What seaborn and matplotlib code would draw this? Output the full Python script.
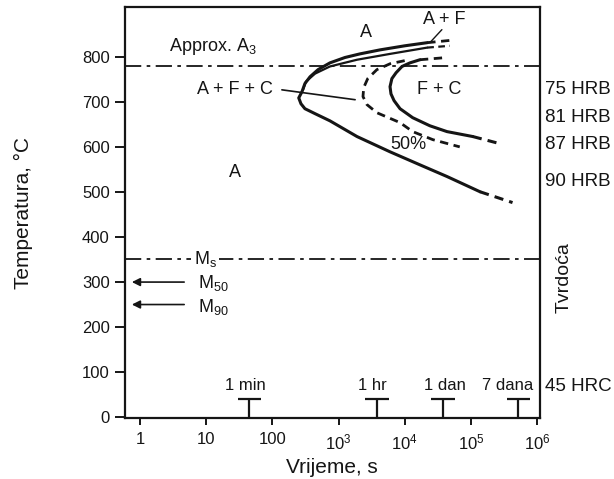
import matplotlib
matplotlib.use("Agg")
import matplotlib.pyplot as plt
import seaborn as sns

# --- data (time in s, temperature in C) ---
# start of transformation (solid), upper end -> nose -> lower end
start_t = [21900, 10000, 4250, 2100, 1250, 740, 490, 370, 310, 280, 250,
           270, 310, 440, 740, 1900, 6000, 17000, 43600, 138000]
start_T = [833, 826, 817, 808, 800, 788, 773, 757, 742, 724, 710,
           697, 686, 675, 659, 624, 590, 561, 535, 501]
start_tail_lo_t = [138000, 427000]
start_tail_lo_T = [501, 477]
start_tail_hi_t = [21900, 48000]
start_tail_hi_T = [833, 838]

# ferrite start line, just inside the upper branch
ferr_t = [290, 320, 440, 740, 1900, 6000, 21900]
ferr_T = [728, 746, 764, 780, 795, 808, 822]
ferr_tail_t = [21900, 48000]
ferr_tail_T = [822, 826]

# 50 % transformation (dashed)
half_t = [10000, 6000, 3800, 2760, 2400, 2340, 2690, 3800, 8500, 13200, 26700, 68000]
half_T = [793, 786, 773, 753, 733, 713, 695, 677, 655, 635, 617, 601]

# end of transformation (solid), upper end -> nose -> lower end
end_t = [17000, 12000, 9100, 7400, 6400, 6000, 6200, 6900, 8500, 13200, 24000, 43600, 107000]
end_T = [795, 788, 780, 766, 753, 735, 719, 704, 686, 666, 648, 635, 624]
end_tail_hi_t = [17000, 43600]
end_tail_hi_T = [795, 800]
end_tail_lo_t = [107000, 246000]
end_tail_lo_T = [624, 610]

A1_temp = 780
Ms_temp = 352
M50_temp = 300
M90_temp = 250

hard_labels = ["75 HRB", "81 HRB", "87 HRB", "90 HRB", "45 HRC"]
hard_T = [728, 666, 606, 523, 67]

mark_t = [45, 3800, 38000, 520000]
mark_labels = ["1 min", "1 hr", "1 dan", "7 dana"]
mark_label_t = [39, 3300, 40000, 360000]

xticks = [1, 10, 100, 1e3, 1e4, 1e5, 1e6]
xticklabels = ["1", "10", "100", "10$^3$", "10$^4$", "10$^5$", "10$^6$"]
yticks = [0, 100, 200, 300, 400, 500, 600, 700, 800]

sns.set_style("ticks")
plt.rcParams["font.family"] = ["Liberation Sans", "DejaVu Sans"]
plt.rcParams["mathtext.fontset"] = "custom"
plt.rcParams["mathtext.rm"] = "Liberation Sans"
plt.rcParams["mathtext.it"] = "Liberation Sans"

ink = "#151515"
fig = plt.figure(figsize=(6.14, 4.79), dpi=100)
ax = fig.add_axes([0.2036, 0.127, 0.6754, 0.858])

kw = dict(color=ink, sort=False, estimator=None, legend=False, ax=ax)
sns.lineplot(x=start_t, y=start_T, lw=2.2, **kw)
sns.lineplot(x=start_tail_lo_t, y=start_tail_lo_T, lw=2.2, dashes=(3, 2), **kw)
sns.lineplot(x=start_tail_hi_t, y=start_tail_hi_T, lw=2, dashes=(3, 2), **kw)
sns.lineplot(x=ferr_t, y=ferr_T, lw=1.6, **kw)
sns.lineplot(x=ferr_tail_t, y=ferr_tail_T, lw=1.6, dashes=(3, 2), **kw)
sns.lineplot(x=half_t, y=half_T, lw=2, dashes=(3, 2), **kw)
sns.lineplot(x=end_t, y=end_T, lw=2.2, **kw)
sns.lineplot(x=end_tail_hi_t, y=end_tail_hi_T, lw=2, dashes=(3, 2), **kw)
sns.lineplot(x=end_tail_lo_t, y=end_tail_lo_T, lw=2.2, dashes=(3, 2), **kw)

ax.set_xscale("log")
ax.set_xlim(0.59, 1.1e6)
ax.set_ylim(-3, 912)

# horizontal reference lines
dashdot = (0, (9, 3, 2, 3))
ax.axhline(A1_temp, color=ink, lw=1.3, ls=dashdot)
ax.axhline(Ms_temp, color=ink, lw=1.3, ls=dashdot)

ax.annotate("", xy=(0.68, M50_temp), xytext=(5.1, M50_temp),
            arrowprops=dict(arrowstyle="-|>", color=ink, lw=1.2, mutation_scale=12))
ax.annotate("", xy=(0.68, M90_temp), xytext=(5.1, M90_temp),
            arrowprops=dict(arrowstyle="-|>", color=ink, lw=1.2, mutation_scale=12))

fs = 13
ax.text(12.7, 824, "Approx. A$_3$", fontsize=fs, ha="center", va="center", color=ink)
ax.text(27, 728, "A + F + C", fontsize=fs, ha="center", va="center", color=ink)
ax.plot([139, 1780], [728, 706], color=ink, lw=1.2)
ax.text(2600, 855, "A", fontsize=fs, ha="center", va="center", color=ink)
ax.text(40000, 884, "A + F", fontsize=fs, ha="center", va="center", color=ink)
ax.plot([24000, 36500], [833, 862], color=ink, lw=1.0)
ax.text(33000, 728, "F + C", fontsize=fs, ha="center", va="center", color=ink)
ax.text(11200, 606, "50%", fontsize=fs, ha="center", va="center", color=ink)
ax.text(27, 543, "A", fontsize=fs, ha="center", va="center", color=ink)
ax.text(9.6, Ms_temp, "M$_s$", fontsize=fs, ha="center", va="center", color=ink,
        bbox=dict(facecolor="white", edgecolor="none", pad=1.5))
ax.text(12.7, M50_temp - 2, "M$_{50}$", fontsize=fs, ha="center", va="center", color=ink)
ax.text(12.7, M90_temp - 5, "M$_{90}$", fontsize=fs, ha="center", va="center", color=ink)

# time markers
for t, lab, lt in zip(mark_t, mark_labels, mark_label_t):
    ax.vlines(t, 0, 40, color=ink, lw=1.6)
    ax.hlines(40, t / 1.5, t * 1.5, color=ink, lw=1.6)
    ax.text(lt, 69, lab, fontsize=12, ha="center", va="center", color=ink)

# hardness labels on the right
ytr = ax.get_yaxis_transform()
for lab, T in zip(hard_labels, hard_T):
    ax.text(1.012, T, lab, transform=ytr, fontsize=13.5, ha="left", va="center", color=ink)
ax.text(1.06, 0.343, "Tvrdoća", transform=ax.transAxes, rotation=90,
        fontsize=14, ha="center", va="center", color=ink)

ax.set_xticks(xticks)
ax.set_xticklabels(xticklabels)
ax.minorticks_off()
ax.set_yticks(yticks)
ax.tick_params(axis="both", labelsize=12, colors=ink, width=1.4, direction="out")
ax.tick_params(axis="y", length=7, pad=4)
ax.tick_params(axis="x", length=5, pad=5)
for sp in ax.spines.values():
    sp.set_visible(True)
    sp.set_linewidth(1.6)
    sp.set_color(ink)

ax.set_xlabel("Vrijeme, s", fontsize=15, color=ink)
ax.set_ylabel("Temperatura, °C", fontsize=15, color=ink)
ax.xaxis.set_label_coords(0.5, -0.097)
ax.yaxis.set_label_coords(-0.222, 0.5)

fig.savefig("out.png", dpi=100)
